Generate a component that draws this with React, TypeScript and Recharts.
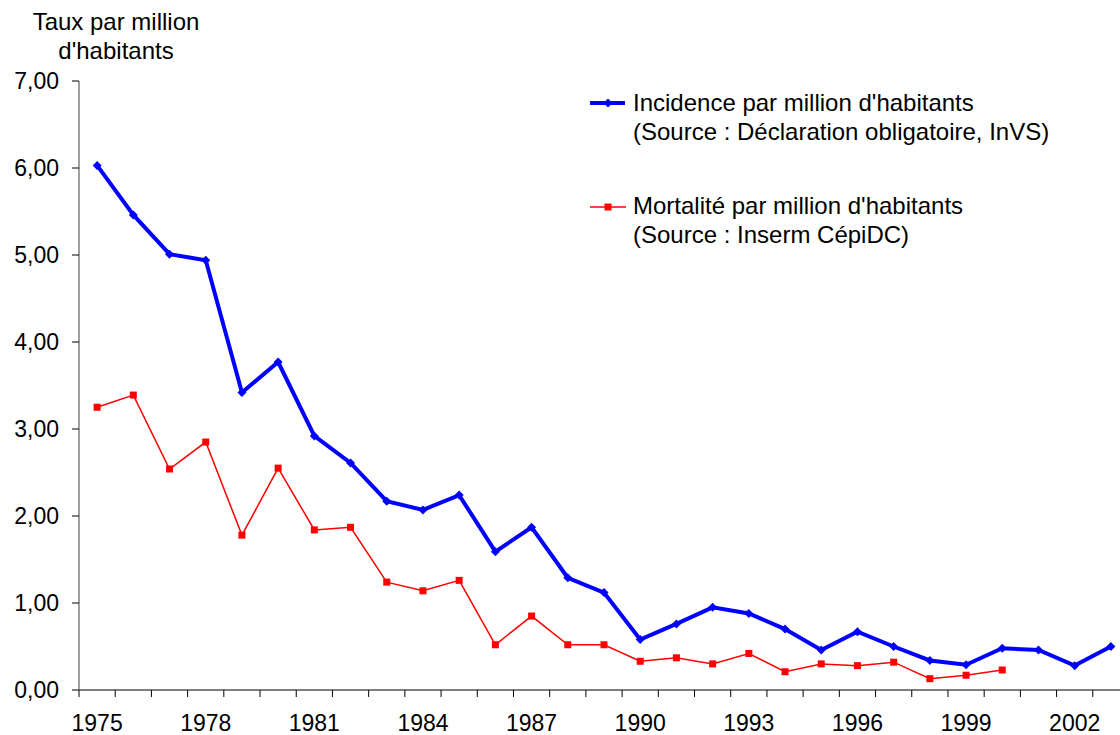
import React from "react";
import { LineChart, Line, XAxis, YAxis } from "recharts";

const YEARS = [
  1975, 1976, 1977, 1978, 1979, 1980, 1981, 1982, 1983, 1984, 1985, 1986, 1987, 1988, 1989,
  1990, 1991, 1992, 1993, 1994, 1995, 1996, 1997, 1998, 1999, 2000, 2001, 2002, 2003,
];
const INCIDENCE = [
  6.03, 5.46, 5.01, 4.94, 3.42, 3.77, 2.92, 2.61, 2.17, 2.07, 2.24, 1.59, 1.87, 1.29, 1.12,
  0.58, 0.76, 0.95, 0.88, 0.70, 0.46, 0.67, 0.50, 0.34, 0.29, 0.48, 0.46, 0.28, 0.50,
];
const MORTALITY: (number | null)[] = [
  3.25, 3.39, 2.54, 2.85, 1.78, 2.55, 1.84, 1.87, 1.24, 1.14, 1.26, 0.52, 0.85, 0.52, 0.52,
  0.33, 0.37, 0.30, 0.42, 0.21, 0.30, 0.28, 0.32, 0.13, 0.17, 0.23, null, null, null,
];
const Y_TICKS = [0, 1, 2, 3, 4, 5, 6, 7];
const LABEL_EVERY = 3;
const Y_TITLE = ["Taux par million", "d'habitants"];
const LEGEND_INC = ["Incidence par million d'habitants", "(Source : Déclaration obligatoire, InVS)"];
const LEGEND_MORT = ["Mortalité par million d'habitants", "(Source : Inserm CépiDC)"];

const data = YEARS.map((y, i) => ({ year: y, inc: INCIDENCE[i], mort: MORTALITY[i] }));

const FONT = "'Liberation Sans', Arial, sans-serif";
const CHART_W = 1140;
const CHART_H = 735;
const M_TOP = 81;
const M_RIGHT = 11;
const Y_W = 79;
const X_H = 45;
const PLOT_W = CHART_W - M_RIGHT - Y_W;
const BW = PLOT_W / YEARS.length;

const XTick = (props: any) => {
  const { x, y, index, payload } = props;
  const lx = x - BW / 2;
  return (
    <g>
      <line x1={lx} y1={y} x2={lx} y2={y + 7} stroke="#000" strokeWidth={1} />
      {index === YEARS.length - 1 && (
        <line x1={x + BW / 2} y1={y} x2={x + BW / 2} y2={y + 7} stroke="#000" strokeWidth={1} />
      )}
      {index % LABEL_EVERY === 0 && (
        <text x={x} y={y + 41} textAnchor="middle" fontSize={23} fontFamily={FONT} fill="#000">
          {payload.value}
        </text>
      )}
    </g>
  );
};

const diamondDot = (p: any) => {
  const { cx, cy, index } = p;
  if (cy == null || cx == null) return <g key={`d${index}`} />;
  const r = 4.5;
  return (
    <path
      key={`d${index}`}
      d={`M${cx},${cy - r} L${cx + r},${cy} L${cx},${cy + r} L${cx - r},${cy} Z`}
      fill="#0000FF"
    />
  );
};

const squareDot = (p: any) => {
  const { cx, cy, index } = p;
  if (cy == null || cx == null) return <g key={`s${index}`} />;
  const s = 7;
  return <rect key={`s${index}`} x={cx - s / 2} y={cy - s / 2} width={s} height={s} fill="#FF0000" />;
};

export default function App() {
  return (
    <div
      style={{
        position: "absolute",
        left: 0,
        top: 0,
        width: 1120,
        height: 735,
        overflow: "hidden",
        background: "#fff",
      }}
    >
      <LineChart
        width={CHART_W}
        height={CHART_H}
        data={data}
        margin={{ top: M_TOP, right: M_RIGHT, bottom: 0, left: 0 }}
      >
        <XAxis
          dataKey="year"
          type="category"
          scale="band"
          interval={0}
          height={X_H}
          tickSize={0}
          tickMargin={0}
          tickLine={false}
          axisLine={{ stroke: "#000", strokeWidth: 1 }}
          tick={<XTick />}
        />
        <YAxis
          type="number"
          domain={[0, 7]}
          ticks={Y_TICKS}
          interval={0}
          width={Y_W}
          tickSize={7}
          tickMargin={13}
          axisLine={{ stroke: "#808080", strokeWidth: 1.5 }}
          tickLine={{ stroke: "#000" }}
          tick={{ fontSize: 23, fontFamily: FONT, fill: "#000" }}
          tickFormatter={(v: number) => v.toFixed(2).replace(".", ",")}
        />
        <Line
          type="linear"
          dataKey="inc"
          stroke="#0000FF"
          strokeWidth={4}
          dot={diamondDot}
          activeDot={false}
          isAnimationActive={false}
        />
        <Line
          type="linear"
          dataKey="mort"
          stroke="#FF0000"
          strokeWidth={1.5}
          dot={squareDot}
          activeDot={false}
          connectNulls={false}
          isAnimationActive={false}
        />
        <g fontFamily={FONT} fontSize={24} fill="#000">
          <text x={116} y={30} textAnchor="middle">{Y_TITLE[0]}</text>
          <text x={116} y={59} textAnchor="middle">{Y_TITLE[1]}</text>
          <line x1={590} y1={103} x2={625} y2={103} stroke="#0000FF" strokeWidth={4} />
          <path d="M608,98.5 L612.5,103 L608,107.5 L603.5,103 Z" fill="#0000FF" />
          <text x={633} y={111}>{LEGEND_INC[0]}</text>
          <text x={633} y={139.5}>{LEGEND_INC[1]}</text>
          <line x1={590} y1={207} x2={626} y2={207} stroke="#FF0000" strokeWidth={1.5} />
          <rect x={604.5} y={203.5} width={7} height={7} fill="#FF0000" />
          <text x={633} y={214}>{LEGEND_MORT[0]}</text>
          <text x={633} y={242.5}>{LEGEND_MORT[1]}</text>
        </g>
      </LineChart>
    </div>
  );
}
